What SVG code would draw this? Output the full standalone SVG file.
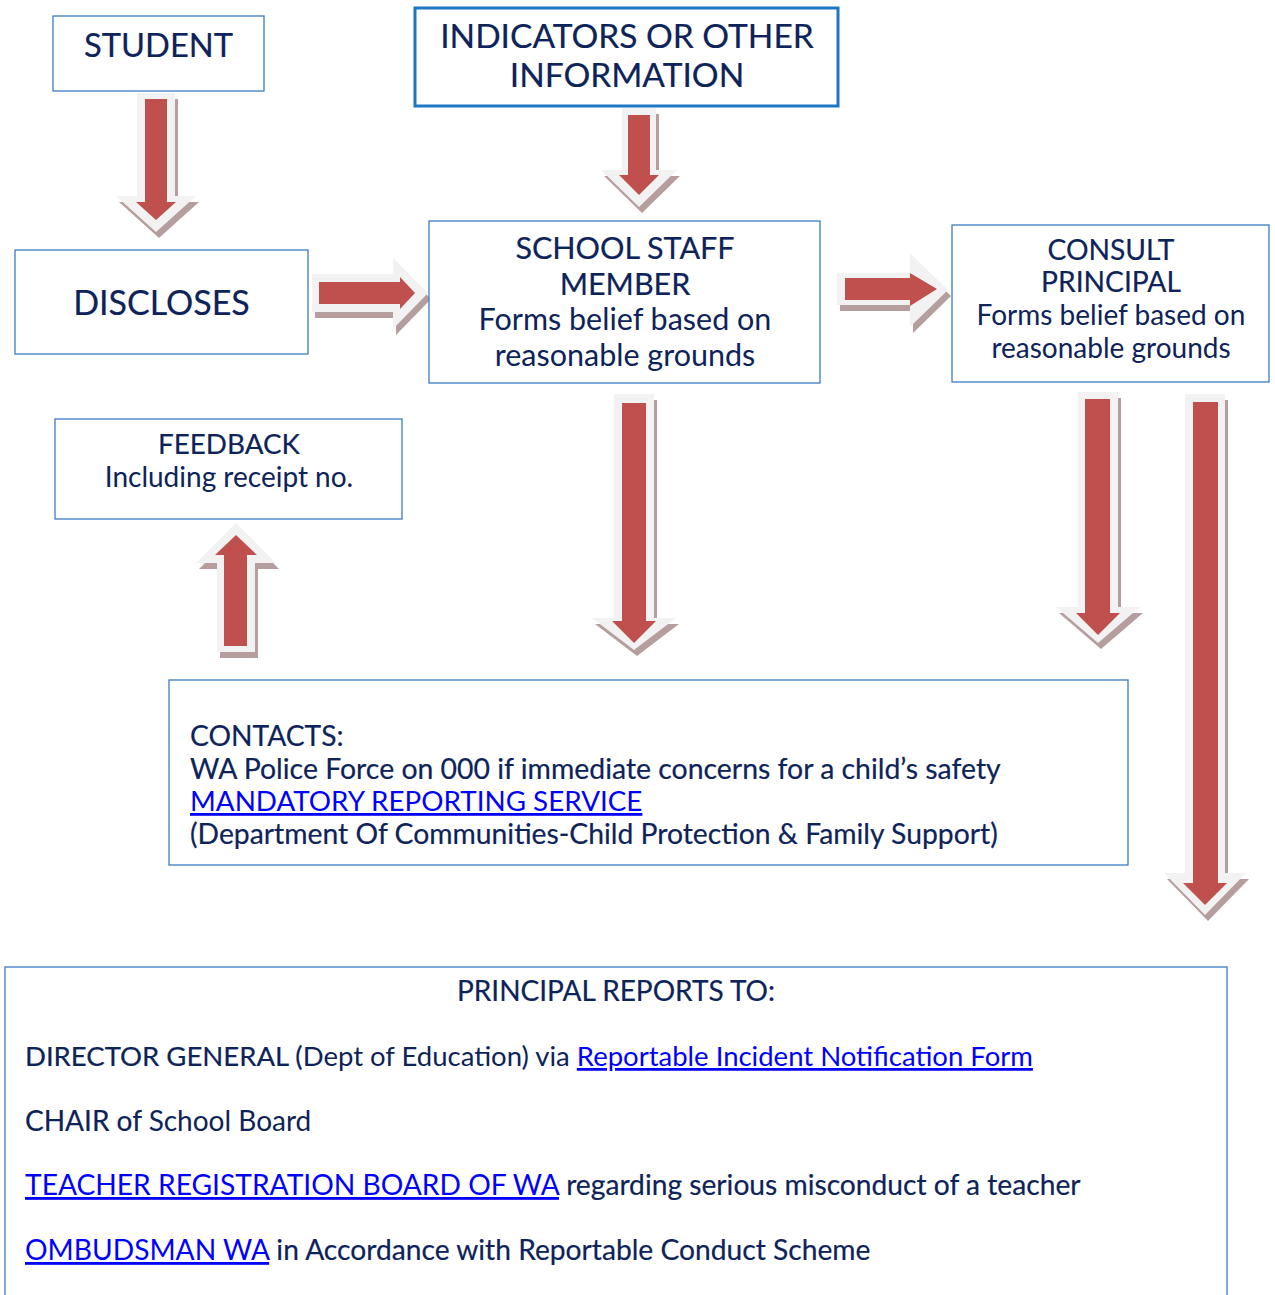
<svg xmlns="http://www.w3.org/2000/svg" width="1275" height="1295" viewBox="0 0 1275 1295">
<style>
.box{fill:#fff;stroke:#3a7cc4;stroke-width:1.3}
.box2{fill:#fff;stroke:#1f77c4;stroke-width:3}
.t{font-family:Lato,"Noto Sans",sans-serif;fill:#0d2359}
.m{stroke:#0d2359;stroke-width:0.2}
.lnk{fill:#0000ff;text-decoration:underline;stroke:none}
.sh{fill:#b79e9e}
.out{fill:#f2f2f2}
.in{fill:#c0504d}
</style>
<rect width="1275" height="1295" fill="#fff"/>
<g id="connectors">
  <g id="arrow-student">
    <polygon class="sh" transform="translate(3,6)" points="137,93 175,93 175,196 196,196 156,232 116,196 137,196"/>
    <polygon class="out" points="137,93 175,93 175,196 196,196 156,232 116,196 137,196"/>
    <polygon class="in" points="145,99 167,99 167,202 176,202 156,220 136,202 145,202"/>
  </g>
  <g id="arrow-indicators">
    <polygon class="sh" transform="translate(3,6)" points="622,108 656,108 656,170 677,170 639,207 601,170 622,170"/>
    <polygon class="out" points="622,108 656,108 656,170 677,170 639,207 601,170 622,170"/>
    <polygon class="in" points="628,115 650,115 650,175 659,175 639,195 619,175 628,175"/>
  </g>
  <g id="arrow-disclose">
    <polygon class="sh" transform="translate(3,6)" points="312,274 393,274 393,258 428,293 393,329 393,312 312,312"/>
    <polygon class="out" points="312,274 393,274 393,258 428,293 393,329 393,312 312,312"/>
    <polygon class="in" points="319,282 400,282 400,277 415,293 400,309 400,304 319,304"/>
  </g>
  <g id="arrow-consult">
    <polygon class="sh" transform="translate(3,6)" points="837,273 910,273 910,253 948,290 910,327 910,305 837,305"/>
    <polygon class="out" points="837,273 910,273 910,253 948,290 910,327 910,305 837,305"/>
    <polygon class="in" points="845,278 910,278 910,273 937,289 910,306 910,300 845,300"/>
  </g>
  <g id="arrow-staff-down">
    <polygon class="sh" transform="translate(3,6)" points="614,394 654,394 654,618 676,618 634,650 592,618 614,618"/>
    <polygon class="out" points="614,394 654,394 654,618 676,618 634,650 592,618 614,618"/>
    <polygon class="in" points="622,403 646,403 646,621 656,621 634,643 612,621 622,621"/>
  </g>
  <g id="arrow-principal-down">
    <polygon class="sh" transform="translate(3,6)" points="1078,392 1118,392 1118,607 1140,607 1098,643 1056,607 1078,607"/>
    <polygon class="out" points="1078,392 1118,392 1118,607 1140,607 1098,643 1056,607 1078,607"/>
    <polygon class="in" points="1085,399 1110,399 1110,613 1120,613 1098,635 1076,613 1085,613"/>
  </g>
  <g id="arrow-principal-reports">
    <polygon class="sh" transform="translate(3,6)" points="1185,394 1225,394 1225,873 1246,873 1205,915 1164,873 1185,873"/>
    <polygon class="out" points="1185,394 1225,394 1225,873 1246,873 1205,915 1164,873 1185,873"/>
    <polygon class="in" points="1193,402 1218,402 1218,883 1227,883 1205,905 1183,883 1193,883"/>
  </g>
  <g id="arrow-feedback">
    <polygon class="sh" transform="translate(3,6)" points="236,523 276,563 255,563 255,652 217,652 217,563 196,563"/>
    <polygon class="out" points="236,523 276,563 255,563 255,652 217,652 217,563 196,563"/>
    <polygon class="in" points="236,535 257,555 247,555 247,646 224,646 224,555 215,555"/>
  </g>
</g>
<g id="student">
  <rect class="box" x="53" y="16" width="211" height="75"/>
  <text class="t m" x="158.5" y="57" font-size="32.7" text-anchor="middle">STUDENT</text>
</g>
<g id="indicators">
  <rect class="box2" x="415" y="8" width="423" height="98"/>
  <text class="t m" x="627" y="48" font-size="33.5" text-anchor="middle">INDICATORS OR OTHER</text>
  <text class="t m" x="627" y="87" font-size="33.5" text-anchor="middle">INFORMATION</text>
</g>
<g id="discloses">
  <rect class="box" x="15" y="250" width="293" height="104"/>
  <text class="t m" x="161.5" y="315" font-size="34" text-anchor="middle">DISCLOSES</text>
</g>
<g id="staff">
  <rect class="box" x="429" y="221" width="391" height="162"/>
  <text class="t m" x="625" y="259" font-size="30.5" text-anchor="middle">SCHOOL STAFF</text>
  <text class="t m" x="625" y="295" font-size="30.5" text-anchor="middle">MEMBER</text>
  <text class="t" x="625" y="330" font-size="30.5" text-anchor="middle">Forms belief based on</text>
  <text class="t" x="625" y="366" font-size="30.5" text-anchor="middle">reasonable grounds</text>
</g>
<g id="consult">
  <rect class="box" x="952" y="225" width="317" height="157"/>
  <text class="t m" x="1111" y="260" font-size="28.2" text-anchor="middle">CONSULT</text>
  <text class="t m" x="1111" y="292" font-size="28.2" text-anchor="middle">PRINCIPAL</text>
  <text class="t" x="1111" y="325" font-size="28" text-anchor="middle">Forms belief based on</text>
  <text class="t" x="1111" y="358" font-size="28" text-anchor="middle">reasonable grounds</text>
</g>
<g id="feedback">
  <rect class="box" x="55" y="419" width="347" height="100"/>
  <text class="t m" x="229" y="454" font-size="27.8" text-anchor="middle">FEEDBACK</text>
  <text class="t" x="229" y="487" font-size="28" text-anchor="middle">Including receipt no.</text>
</g>
<g id="contacts">
  <rect class="box" x="169" y="680" width="959" height="185"/>
  <text class="t m" x="190" y="746" font-size="28.2">CONTACTS:</text>
  <text class="t m" x="190" y="779" font-size="28.4">WA Police Force on 000 if immediate concerns for a child’s safety</text>
  <text class="t lnk" x="190" y="811" font-size="27.8">MANDATORY REPORTING SERVICE</text>
  <text class="t m" x="190" y="844" font-size="28.3">(Department Of Communities-Child Protection &amp; Family Support)</text>
</g>
<g id="principal-reports">
  <rect class="box" x="5" y="967" width="1222" height="340"/>
  <text class="t m" x="616" y="1001" font-size="28" text-anchor="middle">PRINCIPAL REPORTS TO:</text>
  <text class="t" x="25" y="1066" font-size="27.5"><tspan class="m">DIRECTOR GENERAL (</tspan>Dept of Education) via <tspan class="lnk">Reportable Incident Notification Form</tspan></text>
  <text class="t" x="25" y="1131" font-size="28"><tspan class="m">CHAIR of </tspan>School Board</text>
  <text class="t m" x="25" y="1195" font-size="28.2"><tspan class="lnk">TEACHER REGISTRATION BOARD OF WA</tspan> regarding serious misconduct of a teacher</text>
  <text class="t m" x="25" y="1260" font-size="28.2"><tspan class="lnk">OMBUDSMAN WA</tspan> in Accordance with Reportable Conduct Scheme</text>
</g>
</svg>
